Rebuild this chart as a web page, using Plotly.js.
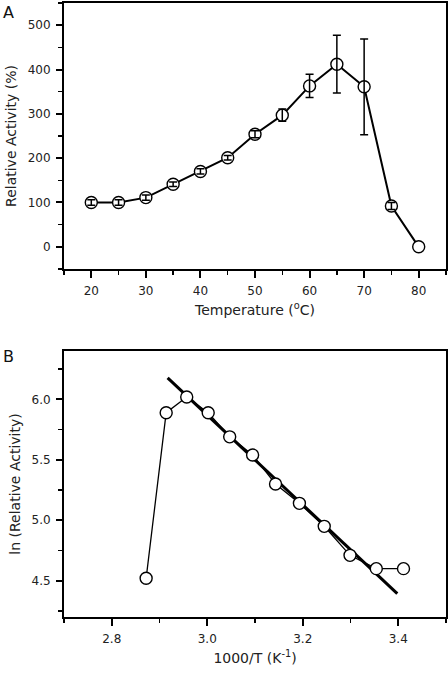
<!DOCTYPE html>
<html>
<head>
<meta charset="utf-8">
<script src="https://cdn.plot.ly/plotly-3.0.1.min.js"></script>
<style>html,body{margin:0;padding:0;background:#fff;}#chart{width:448px;height:677px;}</style>
</head>
<body>
<div id="chart"></div>
<script>
// Panel A: temperature profile
var tempC = [20, 25, 30, 35, 40, 45, 50, 55, 60, 65, 70, 75, 80];
var relActivity = [100, 100, 111, 141, 170, 201, 254, 297, 363, 412, 361, 92, 0];
// no error bar drawn at 80 °C
var relActivityErr = [6, 6, 6, 5, 6, 5, 8, 14, 26, 65, 108, 8, NaN];

// Panel B: Arrhenius plot
var invT = [2.872, 2.914, 2.957, 3.002, 3.047, 3.095, 3.143, 3.193, 3.245, 3.299, 3.354, 3.411];
var lnActivity = [4.52, 5.89, 6.02, 5.89, 5.69, 5.54, 5.30, 5.14, 4.95, 4.71, 4.60, 4.60];
var fitX = [2.917, 3.398];
var fitY = [6.178, 4.393];

var FONT = "DejaVu Sans, Arial, sans-serif";
var markerStyle = {symbol: 'circle', size: 12, color: '#ffffff', line: {color: '#000', width: 1.4}};

var traces = [
  {x: tempC, y: relActivity, type: 'scatter', mode: 'lines+markers', xaxis: 'x', yaxis: 'y',
   line: {color: '#000', width: 2}, marker: markerStyle, showlegend: false},
  {x: tempC, y: relActivity, type: 'scatter', mode: 'markers', xaxis: 'x', yaxis: 'y',
   marker: {size: 12, opacity: 0}, showlegend: false,
   error_y: {type: 'data', array: relActivityErr, visible: true, color: '#000', thickness: 1.5, width: 4}},
  {x: fitX, y: fitY, type: 'scatter', mode: 'lines', xaxis: 'x2', yaxis: 'y2',
   line: {color: '#000', width: 3}, showlegend: false},
  {x: invT, y: lnActivity, type: 'scatter', mode: 'lines+markers', xaxis: 'x2', yaxis: 'y2',
   line: {color: '#000', width: 1.3}, marker: markerStyle, showlegend: false}
];

function axisBase() {
  return {
    showgrid: false, zeroline: false, showline: true, linecolor: '#000', linewidth: 2,
    mirror: true, ticks: 'outside', ticklen: 7, tickwidth: 2, tickcolor: '#000',
    tickfont: {family: FONT, size: 12, color: '#222'}, ticklabelstandoff: 3
  };
}

var xA = Object.assign(axisBase(), {
  anchor: 'y', range: [15, 85], tick0: 20, dtick: 10,
  minor: {dtick: 5, tick0: 15, ticks: 'outside', ticklen: 4, tickwidth: 1.5, tickcolor: '#000'},
  title: {text: 'Temperature (<sup>o</sup>C)', font: {family: FONT, size: 14, color: '#222'}, standoff: 8}
});
var yA = Object.assign(axisBase(), {
  anchor: 'x', domain: [0.5668, 1], range: [-50, 550], tick0: 0, dtick: 100, ticklen: 6,
  minor: {dtick: 50, tick0: 0, ticks: 'outside', ticklen: 4, tickwidth: 1.5, tickcolor: '#000'},
  title: {text: 'Relative Activity (%)', font: {family: FONT, size: 14, color: '#222'}, standoff: 8}
});
var xB = Object.assign(axisBase(), {
  anchor: 'y2', range: [2.7, 3.5], tick0: 2.8, dtick: 0.2, tickformat: '.1f',
  minor: {dtick: 0.1, tick0: 2.7, ticks: 'outside', ticklen: 4, tickwidth: 1.5, tickcolor: '#000'},
  title: {text: '1000/T (K<sup>-1</sup>)', font: {family: FONT, size: 14, color: '#222'}, standoff: 8}
});
var yB = Object.assign(axisBase(), {
  anchor: 'x2', domain: [0, 0.4332], range: [4.2, 6.4], tick0: 4.5, dtick: 0.5, tickformat: '.1f', ticklen: 6,
  minor: {dtick: 0.25, tick0: 4.25, ticks: 'outside', ticklen: 4, tickwidth: 1.5, tickcolor: '#000'},
  title: {text: 'ln (Relative Activity)', font: {family: FONT, size: 14, color: '#222'}, standoff: 8}
});

var layout = {
  width: 448, height: 677,
  margin: {l: 64, r: 2, t: 3, b: 60},
  paper_bgcolor: '#fff', plot_bgcolor: '#fff',
  xaxis: xA, yaxis: yA, xaxis2: xB, yaxis2: yB,
  showlegend: false,
  annotations: [
    {text: 'A', xref: 'paper', yref: 'paper', x: -0.144, y: 0.985, xanchor: 'center', yanchor: 'middle',
     showarrow: false, font: {family: FONT, size: 16, color: '#111'}},
    {text: 'B', xref: 'paper', yref: 'paper', x: -0.144, y: 0.4235, xanchor: 'center', yanchor: 'middle',
     showarrow: false, font: {family: FONT, size: 16, color: '#111'}}
  ]
};

Plotly.newPlot('chart', traces, layout, {staticPlot: true, displayModeBar: false});
</script>
</body>
</html>
